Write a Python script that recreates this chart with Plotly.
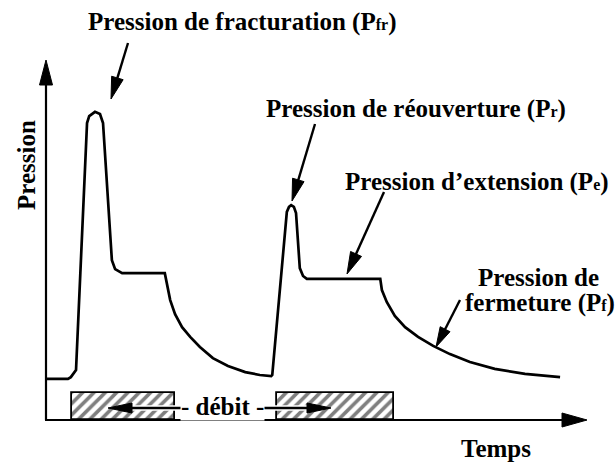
import math
import plotly.graph_objects as go

# ---- schematic data (arbitrary units) ----
temps = [0, 4.07, 4.6, 5.56, 7.6, 8.0, 9.07, 10.0, 10.56, 12.2, 12.8, 14.1, 22.0,
         22.4, 23.0, 23.9, 25.2, 26.7, 28.5, 30.9, 33.7, 36.9, 39.6, 41.7,
         41.9, 44.6, 45.0, 45.4, 45.9, 46.3, 46.7, 47.0, 47.6, 48.3, 61.9,
         62.2, 63.1, 64.6, 66.5, 68.9, 71.7, 74.8, 78.5, 83.1, 88.7, 95.2]
pression = [11.4, 11.4, 11.9, 13.9, 82.5, 84.4, 85.6, 85.0, 82.5, 44.4, 41.9, 40.8, 40.8,
            37.5, 33.3, 29.4, 25.8, 23.1, 20.3, 17.2, 15.0, 13.3, 12.5, 12.2,
            12.5, 57.8, 59.2, 59.7, 59.2, 57.5, 47.2, 42.2, 40.0, 39.2, 39.2,
            36.1, 32.8, 28.9, 25.8, 23.1, 20.6, 18.3, 16.1, 14.2, 12.8, 11.9]
debit_debut = [4.8, 42.8]
debit_fin = [23.9, 64.4]
debit_niveau = [7.5, 7.5]

W, H = 616, 463
X0PX, XS = 46, 5.4      # pixel of t=0, px per unit
Y0PX, YS = 420, 3.6     # pixel of p=0, px per unit

FONT = "Liberation Serif"
FS = 25
SUB = '<span style="font-size:16px">{}</span>'

fig = go.Figure()

fig.add_trace(go.Bar(
    x=[(a + b) / 2 for a, b in zip(debit_debut, debit_fin)],
    width=[b - a for a, b in zip(debit_debut, debit_fin)],
    y=debit_niveau, base=0,
    marker=dict(color="white", line=dict(color="black", width=1.8),
                pattern=dict(shape="/", fgcolor="black", bgcolor="white",
                             size=8, solidity=0.45)),
    hoverinfo="skip", showlegend=False))

fig.add_trace(go.Scatter(x=temps, y=pression, mode="lines",
                         line=dict(color="black", width=2.7),
                         hoverinfo="skip", showlegend=False))


def P(px, py):
    return px / W, 1 - py / H


shapes = []


def arrow(x0, y0, x1, y1, hl=22, hw=12, lw=2.4, halo=0):
    dx, dy = x1 - x0, y1 - y0
    L = math.hypot(dx, dy)
    ux, uy = dx / L, dy / L
    nx, ny = -uy, ux
    bx, by = x1 - ux * hl, y1 - uy * hl
    a = P(x0, y0)
    b = P(bx + ux * 2, by + uy * 2)
    if halo:
        shapes.append(dict(type="line", xref="paper", yref="paper",
                           x0=a[0], y0=a[1], x1=b[0], y1=b[1],
                           line=dict(color="white", width=lw + halo)))
    shapes.append(dict(type="line", xref="paper", yref="paper",
                       x0=a[0], y0=a[1], x1=b[0], y1=b[1],
                       line=dict(color="black", width=lw)))
    p1 = P(x1, y1)
    p2 = P(bx + nx * hw / 2, by + ny * hw / 2)
    p3 = P(bx - nx * hw / 2, by - ny * hw / 2)
    path = f"M{p1[0]},{p1[1]} L{p2[0]},{p2[1]} L{p3[0]},{p3[1]} Z"
    shapes.append(dict(type="path", xref="paper", yref="paper", path=path,
                       fillcolor="black", line=dict(color="black", width=1)))


# axes
arrow(46, 420, 46, 60, hl=25, hw=13, lw=2.2)
arrow(45, 420, 587, 420, hl=25, hw=14, lw=2.2)
# label arrows
arrow(128, 43, 111, 99)
arrow(315, 124, 292, 201)
arrow(384, 192, 347, 274)
arrow(460, 300, 436, 347, hl=20, hw=11)
# debit arrows
arrow(187, 408, 108, 408, hl=24, hw=10, lw=2.6, halo=3)
arrow(257, 408, 331, 408, hl=24, hw=10, lw=2.6, halo=3)

ann = []


def label(px, py, text, xanchor="left", size=FS, **kw):
    x, y = P(px, py)
    ann.append(dict(xref="paper", yref="paper", x=x, y=y, text=text,
                    xanchor=xanchor, yanchor="middle", showarrow=False,
                    font=dict(family=FONT, size=size, color="black"), **kw))


label(86, 22, "<b>Pression de fracturation (P" + SUB.format("fr") + ")</b>")
label(264, 109, "<b>Pression de réouverture (P" + SUB.format("r") + ")</b>")
label(343, 182, "<b>Pression d’extension (P" + SUB.format("e") + ")</b>")
label(538, 277, "<b>Pression de</b>", xanchor="center")
label(540, 303, "<b>fermeture (P" + SUB.format("f") + ")</b>", xanchor="center")
label(496, 448, "<b>Temps</b>", xanchor="center")
label(222, 406, "<b>- débit -</b>", xanchor="center", bgcolor="white", borderpad=0)
x, y = P(26, 165)
ann.append(dict(xref="paper", yref="paper", x=x, y=y, text="<b>Pression</b>",
                textangle=-90, showarrow=False, xanchor="center", yanchor="middle",
                font=dict(family=FONT, size=FS, color="black")))

fig.update_layout(
    width=W, height=H, margin=dict(l=0, r=0, t=0, b=0),
    paper_bgcolor="white", plot_bgcolor="white",
    xaxis=dict(range=[-X0PX / XS, (W - X0PX) / XS], visible=False, fixedrange=True),
    yaxis=dict(range=[-(H - Y0PX) / YS, Y0PX / YS], visible=False, fixedrange=True),
    shapes=shapes, annotations=ann, bargap=0, showlegend=False)

fig.write_html("out.html", config={"displayModeBar": False},
               post_script="document.body.style.margin='0px';document.body.style.overflow='hidden';")
